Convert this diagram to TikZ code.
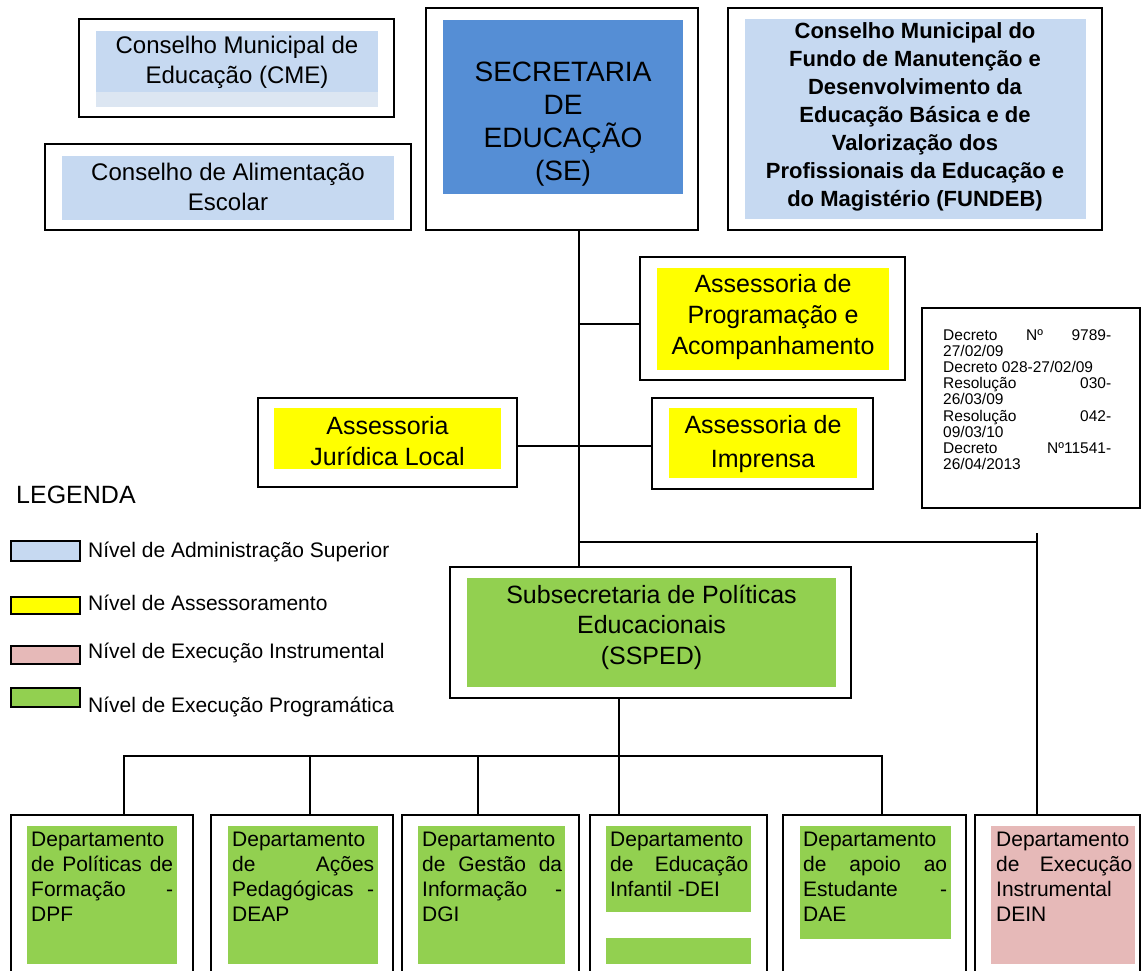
\documentclass[tikz,border=0pt]{standalone}
\usepackage{fontspec}
\setmainfont{Liberation Sans}
\definecolor{adm}{HTML}{C6D9F1}
\definecolor{admlight}{HTML}{DCE6F2}
\definecolor{seblue}{HTML}{558ED5}
\definecolor{assy}{HTML}{FFFF00}
\definecolor{progg}{HTML}{92D050}
\definecolor{instp}{HTML}{E6B9B8}
\tikzset{
  obox/.style={draw, line width=1.8pt, fill=white, inner sep=0pt},
  conn/.style={line width=1.5pt},
  swatch/.style={draw, line width=1.5pt, inner sep=0pt, minimum width=69pt},
  txt/.style={inner sep=0pt, align=center},
  dtxt/.style={inner sep=0pt, align=left, anchor=north west, font=\fontsize{21}{25}\selectfont},
  ltxt/.style={inner sep=0pt, anchor=west, font=\fontsize{21}{25}\selectfont}
}
\begin{document}
\begin{tikzpicture}[x=1pt,y=-1pt]
\useasboundingbox (0,0) rectangle (1142,970);
\clip (0,0) rectangle (1142,970);
\fill[white] (0,0) rectangle (1142,970);

% junction coordinates
\coordinate (x1) at (579,0);
\coordinate (x2) at (1037,0);
\coordinate (x3) at (619,0);
\coordinate (xd1) at (124,0);
\coordinate (xd2) at (310,0);
\coordinate (xd3) at (478,0);
\coordinate (xd5) at (882,0);
\coordinate (yA) at (0,324);
\coordinate (yJ) at (0,446);
\coordinate (yB) at (0,542);
\coordinate (yC) at (0,756);
\coordinate (topx2) at (1037,533);

% outer boxes
\node[obox, minimum width=315, minimum height=98] (CME) at (236.5,68) {};
\node[obox, minimum width=366, minimum height=86] (CAE) at (228,187) {};
\node[obox, minimum width=272, minimum height=222] (SE) at (562,119) {};
\node[obox, minimum width=374, minimum height=222] (FUN) at (915,119) {};
\node[obox, minimum width=265, minimum height=123] (APA) at (772.5,318.5) {};
\node[obox, minimum width=259, minimum height=89] (AJL) at (387.5,442.5) {};
\node[obox, minimum width=221, minimum height=91] (AI) at (762.5,443.5) {};
\node[obox, minimum width=218, minimum height=200] (DEC) at (1031,408) {};
\node[obox, minimum width=401, minimum height=131] (SSPED) at (650.5,632.5) {};
\node[obox, minimum width=182, minimum height=175] (DPF) at (102,902.5) {};
\node[obox, minimum width=182, minimum height=175] (DEAP) at (302,902.5) {};
\node[obox, minimum width=177, minimum height=175] (DGI) at (490.5,902.5) {};
\node[obox, minimum width=177, minimum height=175] (DEI) at (678.5,902.5) {};
\node[obox, minimum width=183, minimum height=175] (DAE) at (874.5,902.5) {};
\node[obox, minimum width=165, minimum height=175] (DEIN) at (1057.5,902.5) {};

% connectors
\draw[conn] (SE.south -| x1) -- (SSPED.north -| x1);
\draw[conn] (APA.west |- yA) -- (x1 |- yA);
\draw[conn] (AJL.east |- yJ) -- (AI.west |- yJ);
\draw[conn] (x1 |- yB) -- (x2 |- yB);
\draw[conn] (topx2) -- (DEIN.north -| x2);
\draw[conn] (SSPED.south -| x3) -- (DEI.north -| x3);
\draw[conn] (DPF.north -| xd1) -- (xd1 |- yC) -- (xd5 |- yC) -- (DAE.north -| xd5);
\draw[conn] (DEAP.north -| xd2) -- (xd2 |- yC);
\draw[conn] (DGI.north -| xd3) -- (xd3 |- yC);

% inner fills
\fill[adm] (96,31) rectangle (378,92);
\fill[admlight] (96,92) rectangle (378,107);
\fill[adm] (62,156) rectangle (394,220);
\fill[seblue] (443,20) rectangle (683,194);
\fill[adm] (745,19) rectangle (1086,219);
\fill[assy] (657,268) rectangle (889,370);
\fill[assy] (274,408) rectangle (501,469);
\fill[assy] (669,408) rectangle (857,478);
\fill[progg] (467,578) rectangle (836,687);
\fill[progg] (27,826) rectangle (177,964);
\fill[progg] (228,826) rectangle (378,964);
\fill[progg] (418,826) rectangle (565,964);
\fill[progg] (606,826) rectangle (751,912);
\fill[progg] (606,938) rectangle (751,964);
\fill[progg] (800,826) rectangle (951,939);
\fill[instp] (991,826) rectangle (1135,964);

% texts
\node[txt, font=\fontsize{24}{30}\selectfont] (tCME) at (237,62) {Conselho Municipal de\\Educação (CME)};
\node[txt, font=\fontsize{24}{30}\selectfont] (tCAE) at (228,187) {Conselho de Alimentação\\Escolar};
\node[txt, font=\fontsize{28}{33}\selectfont] (tSE) at (563,124.5) {SECRETARIA\\DE\\EDUCAÇÃO\\(SE)};
\node[txt, font=\fontsize{22}{28}\selectfont\bfseries] (tFUN) at (915,117) {Conselho Municipal do\\Fundo de Manutenção e\\Desenvolvimento da\\Educação Básica e de\\Valorização dos\\Profissionais da Educação e\\do Magistério (FUNDEB)};
\node[txt, font=\fontsize{25}{31}\selectfont] (tAPA) at (773,317) {Assessoria de\\Programação e\\Acompanhamento};
\node[txt, font=\fontsize{25}{31}\selectfont] (tAJL) at (387.5,441) {Assessoria\\Jurídica Local};
\node[txt, font=\fontsize{25}{34}\selectfont] (tAI) at (763,444) {Assessoria de\\Imprensa};
\node[txt, font=\fontsize{25}{30.5}\selectfont] (tSSPED) at (651.5,627) {Subsecretaria de Políticas\\Educacionais\\(SSPED)};

\node[inner sep=0pt, align=left, anchor=north west, font=\fontsize{15.5}{16.2}\selectfont] (tDEC) at (943,329) {\makebox[168pt][s]{Decreto Nº 9789-}\\27/02/09\\Decreto 028-27/02/09\\\makebox[168pt][s]{Resolução 030-}\\26/03/09\\\makebox[168pt][s]{Resolução 042-}\\09/03/10\\\makebox[168pt][s]{Decreto Nº11541-}\\26/04/2013};

\node[dtxt] (tDPF) at (31,832) {Departamento\\\makebox[142pt][s]{de Políticas de}\\\makebox[142pt][s]{Formação -}\\DPF};
\node[dtxt] (tDEAP) at (232,832) {Departamento\\\makebox[142pt][s]{de Ações}\\\makebox[142pt][s]{Pedagógicas -}\\DEAP};
\node[dtxt] (tDGI) at (422,832) {Departamento\\\makebox[140pt][s]{de Gestão da}\\\makebox[140pt][s]{Informação -}\\DGI};
\node[dtxt] (tDEI) at (610,832) {Departamento\\\makebox[138pt][s]{de Educação}\\Infantil -DEI};
\node[dtxt] (tDAE) at (803,832) {Departamento\\\makebox[144pt][s]{de apoio ao}\\\makebox[144pt][s]{Estudante -}\\DAE};
\node[dtxt] (tDEIN) at (996,832) {Departamento\\\makebox[136pt][s]{de Execução}\\Instrumental\\DEIN};

% legend
\node[inner sep=0pt, anchor=west, font=\fontsize{25}{30}\selectfont] (leg) at (16,495) {LEGENDA};
\node[swatch, fill=adm, minimum height=20] (s1) at (45.5,551) {};
\node[swatch, fill=assy, minimum height=17] (s2) at (45.5,605.5) {};
\node[swatch, fill=instp, minimum height=18] (s3) at (45.5,655) {};
\node[swatch, fill=progg, minimum height=19] (s4) at (45.5,697.5) {};
\node[ltxt] (l1) at (88,552) {Nível de Administração Superior};
\node[ltxt] (l2) at (88,603) {Nível de Assessoramento};
\node[ltxt] (l3) at (88,653) {Nível de Execução Instrumental};
\node[ltxt] (l4) at (88,707) {Nível de Execução Programática};
\end{tikzpicture}
\end{document}
